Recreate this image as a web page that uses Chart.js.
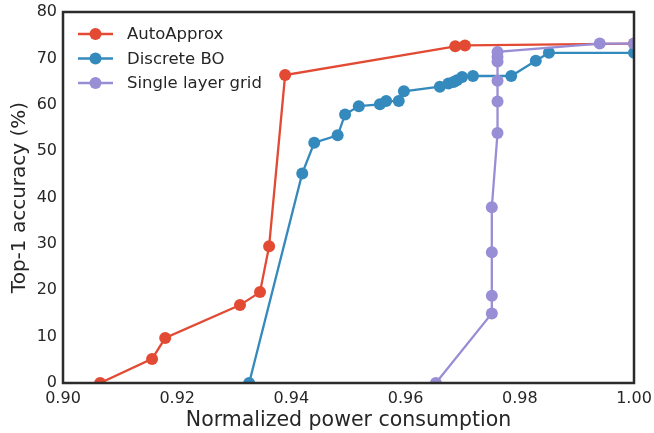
<!DOCTYPE html>
<html>
<head>
<meta charset="utf-8">
<script src="https://cdn.jsdelivr.net/npm/chart.js@4.4.0/dist/chart.umd.min.js"></script>
<style>
  html, body { margin: 0; padding: 0; background: #fff; }
  #wrap { width: 654px; height: 433px; }
</style>
</head>
<body>
<div id="wrap"><canvas id="powerChart" width="654" height="433"></canvas></div>
<script>
// values
const autoX = [0.9065, 0.9156, 0.9179, 0.9310, 0.9345, 0.9361, 0.9389, 0.9687, 0.9704, 1.0];
const autoY = [0, 5.2, 9.7, 16.8, 19.6, 29.5, 66.4, 72.6, 72.8, 73.2];

const boX = [0.9326, 0.9419, 0.9440, 0.9481, 0.9494, 0.9518, 0.9555, 0.9566, 0.9588, 0.9597,
             0.9660, 0.9675, 0.9684, 0.9690, 0.9699, 0.9718, 0.9785, 0.9828, 0.9851, 1.0];
const boY = [0, 45.2, 51.8, 53.4, 57.9, 59.7, 60.1, 60.8, 60.8, 62.9,
             63.9, 64.6, 64.9, 65.3, 66.0, 66.2, 66.2, 69.5, 71.2, 71.2];

const slgX = [0.9653, 0.9751, 0.9751, 0.9751, 0.9751, 0.9761, 0.9761, 0.9761, 0.9761, 0.9761, 0.9761, 0.9940, 1.0];
const slgY = [0, 15.0, 18.8, 28.2, 37.9, 53.9, 60.7, 65.2, 69.3, 70.3, 71.4, 73.2, 73.2];

const seriesNames = ['AutoApprox', 'Discrete BO', 'Single layer grid'];
const seriesColors = ['#E24A33', '#348ABD', '#988ED5'];

const xTicks = [0.90, 0.92, 0.94, 0.96, 0.98, 1.00];
const yTicks = [0, 10, 20, 30, 40, 50, 60, 70, 80];

const FONT = 'DejaVu Sans';
const TEXT = '#262626';

function pts(xs, ys) {
  return xs.map((x, i) => ({ x: x, y: ys[i] }));
}

function mkSet(i, xs, ys) {
  return {
    label: seriesNames[i],
    data: pts(xs, ys),
    borderColor: seriesColors[i],
    backgroundColor: seriesColors[i],
    borderWidth: 2.3,
    pointRadius: 6,
    pointHoverRadius: 6,
    pointBorderWidth: 0,
    showLine: true,
    tension: 0,
    clip: 0,
    order: 3 - i,
  };
}

// frame round the plot area + legend in the top-left corner
const framePlugin = {
  id: 'frame',
  afterDatasetsDraw(chart) {
    const { ctx, chartArea: a } = chart;
    ctx.save();
    ctx.strokeStyle = '#2b2b2b';
    ctx.lineWidth = 2.5;
    ctx.strokeRect(a.left, a.top, a.right - a.left, a.bottom - a.top);

    ctx.font = '16.5px "' + FONT + '"';
    ctx.textBaseline = 'middle';
    ctx.textAlign = 'left';
    seriesNames.forEach((name, i) => {
      const y = a.top + 22 + i * 24.5;
      const x0 = a.left + 15;
      ctx.strokeStyle = seriesColors[i];
      ctx.lineWidth = 2.3;
      ctx.beginPath();
      ctx.moveTo(x0, y);
      ctx.lineTo(x0 + 35, y);
      ctx.stroke();
      ctx.fillStyle = seriesColors[i];
      ctx.beginPath();
      ctx.arc(x0 + 17.5, y, 6, 0, Math.PI * 2);
      ctx.fill();
      ctx.fillStyle = TEXT;
      ctx.fillText(name, x0 + 49, y + 1);
    });
    ctx.restore();
  }
};

const ctx = document.getElementById('powerChart').getContext('2d');
new Chart(ctx, {
  type: 'scatter',
  data: {
    datasets: [
      mkSet(0, autoX, autoY),
      mkSet(1, boX, boY),
      mkSet(2, slgX, slgY),
    ],
  },
  options: {
    responsive: false,
    animation: false,
    devicePixelRatio: 1,
    layout: { padding: { left: 0, right: 20, top: 12, bottom: 0 } },
    plugins: {
      legend: { display: false },
      tooltip: { enabled: false },
    },
    scales: {
      x: {
        type: 'linear',
        min: 0.90,
        max: 1.00,
        afterBuildTicks: (s) => { s.ticks = xTicks.map(v => ({ value: v })); },
        afterFit: (s) => {
          s.height = 50;
          s.paddingLeft = 0;
          s.paddingRight = 0;
        },
        grid: { display: false, drawTicks: false },
        border: { display: false },
        ticks: {
          padding: 6,
          color: TEXT,
          font: { family: FONT, size: 16 },
          callback: (v) => Number(v).toFixed(2),
        },
        title: {
          display: true,
          text: 'Normalized power consumption',
          color: TEXT,
          font: { family: FONT, size: 20.5 },
          padding: { top: 0, bottom: 0 },
        },
      },
      y: {
        type: 'linear',
        min: 0,
        max: 80,
        afterBuildTicks: (s) => { s.ticks = yTicks.map(v => ({ value: v })); },
        afterFit: (s) => {
          s.width = 63;
          s.paddingTop = 0;
          s.paddingBottom = 0;
        },
        grid: { display: false, drawTicks: false },
        border: { display: false },
        ticks: {
          padding: 6,
          color: TEXT,
          font: { family: FONT, size: 16 },
        },
        title: {
          display: true,
          text: 'Top-1 accuracy (%)',
          color: TEXT,
          font: { family: FONT, size: 20 },
          padding: { top: 8, bottom: 0 },
        },
      },
    },
  },
  plugins: [framePlugin],
});
</script>
</body>
</html>
